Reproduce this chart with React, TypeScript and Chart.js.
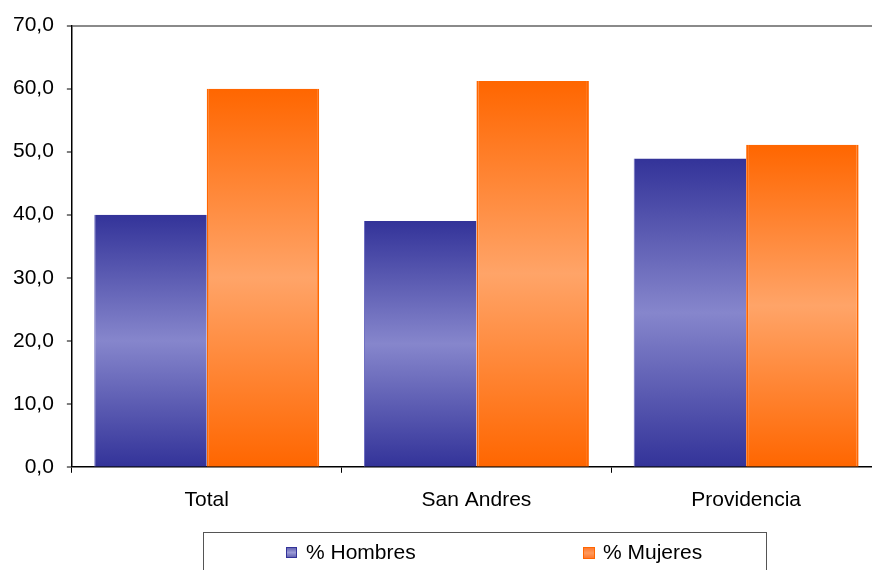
import React, { useEffect, useRef } from "react";
import { Chart, registerables } from "chart.js";

Chart.register(...registerables);

const categories = ["Total", "San Andres", "Providencia"];
const seriesNames = ["% Hombres", "% Mujeres"];
const hombres = [40.0, 39.0, 48.9];
const mujeres = [60.0, 61.2, 51.1];
const yMin = 0;
const yMax = 70;
const yStep = 10;

const FONT = "'Liberation Sans', Arial, sans-serif";
const FS = 21;

const BLUE_DARK = "#333399";
const BLUE_LIGHT = "#8686CC";
const ORANGE_DARK = "#FF6600";
const ORANGE_LIGHT = "#FFA468";

function barGradient(dark: string, light: string) {
  return (ctx: any) => {
    const chart = ctx.chart;
    const y = chart.scales && chart.scales.y;
    if (!y || ctx.raw == null || typeof ctx.raw !== "number") return dark;
    const top = y.getPixelForValue(ctx.raw);
    const bottom = y.getPixelForValue(0);
    if (!isFinite(top) || !isFinite(bottom) || Math.abs(bottom - top) < 1) return dark;
    const g = chart.ctx.createLinearGradient(0, top, 0, bottom);
    g.addColorStop(0, dark);
    g.addColorStop(0.5, light);
    g.addColorStop(1, dark);
    return g;
  };
}

function fmt(v: number) {
  return v.toFixed(1).replace(".", ",");
}

export default function App() {
  const ref = useRef<HTMLCanvasElement | null>(null);

  useEffect(() => {
    if (!ref.current) return;
    const chart = new Chart(ref.current, {
      type: "bar",
      data: {
        labels: categories,
        datasets: [
          {
            label: seriesNames[0],
            data: hombres,
            backgroundColor: barGradient(BLUE_DARK, BLUE_LIGHT),
            borderColor: "#6A6AC0",
            borderWidth: { left: 1, right: 0, top: 0, bottom: 0 } as any,
            borderSkipped: false,
          },
          {
            label: seriesNames[1],
            data: mujeres,
            backgroundColor: barGradient(ORANGE_DARK, ORANGE_LIGHT),
            borderColor: "#FF6600",
            borderWidth: { left: 2, right: 2, top: 0, bottom: 0 } as any,
            borderSkipped: false,
          },
        ],
      },
      options: {
        responsive: false,
        animation: false,
        maintainAspectRatio: false,
        layout: { padding: { left: 0, top: 25, right: 0, bottom: 42 } },
        datasets: {
          bar: { categoryPercentage: 0.834, barPercentage: 1.0 },
        } as any,
        plugins: {
          legend: { display: false },
          tooltip: { enabled: false },
        },
        scales: {
          x: {
            grid: {
              display: true,
              drawOnChartArea: false,
              drawTicks: true,
              tickLength: 6,
              color: "#000",
              tickColor: "#000",
              offset: true,
            },
            border: { display: true, color: "#000", width: 1.5 },
            ticks: {
              color: "#000",
              font: { family: FONT, size: FS },
              padding: 15,
              maxRotation: 0,
            },
          },
          y: {
            min: yMin,
            max: yMax,
            grid: {
              color: (c: any) => (c.tick && c.tick.value === yMax ? "#8A8A8A" : "rgba(0,0,0,0)"),
              lineWidth: (c: any) => (c.tick && c.tick.value === yMax ? 2 : 0),
              tickColor: "#000",
              tickLength: 5,
              drawTicks: true,
              tickWidth: 1,
            } as any,
            border: { display: true, color: "#000", width: 1.5 },
            ticks: {
              stepSize: yStep,
              color: "#000",
              font: { family: FONT, size: FS },
              padding: 13,
              callback: (v: any) => fmt(Number(v)),
            },
          },
        },
      },
    });
    return () => chart.destroy();
  }, []);

  const legendText: React.CSSProperties = {
    position: "absolute",
    top: 540,
    fontFamily: FONT,
    fontSize: FS,
    lineHeight: "24px",
    color: "#000",
    whiteSpace: "nowrap",
  };

  return (
    <div
      style={{
        position: "fixed",
        left: 0,
        top: 0,
        width: 872,
        height: 570,
        overflow: "hidden",
        background: "#fff",
      }}
    >
      <canvas ref={ref} width={881} height={570} style={{ display: "block", width: 881, height: 570 }} />
      <div
        style={{
          position: "absolute",
          left: 203,
          top: 532,
          width: 564,
          height: 60,
          border: "1px solid #555",
          boxSizing: "border-box",
        }}
      />
      <div
        style={{
          position: "absolute",
          left: 286,
          top: 547,
          width: 11,
          height: 11,
          boxSizing: "border-box",
          border: "1px solid #333399",
          background: "linear-gradient(to bottom, #6666B3, #9A9AD6, #6666B3)",
        }}
      />
      <div style={{ ...legendText, left: 306 }}>{seriesNames[0]}</div>
      <div
        style={{
          position: "absolute",
          left: 583,
          top: 547,
          width: 12,
          height: 12,
          boxSizing: "border-box",
          border: "1px solid #FF6600",
          background: "linear-gradient(to bottom, #FF7A30, #FF9A5C, #FF7A30)",
        }}
      />
      <div style={{ ...legendText, left: 603 }}>{seriesNames[1]}</div>
    </div>
  );
}
